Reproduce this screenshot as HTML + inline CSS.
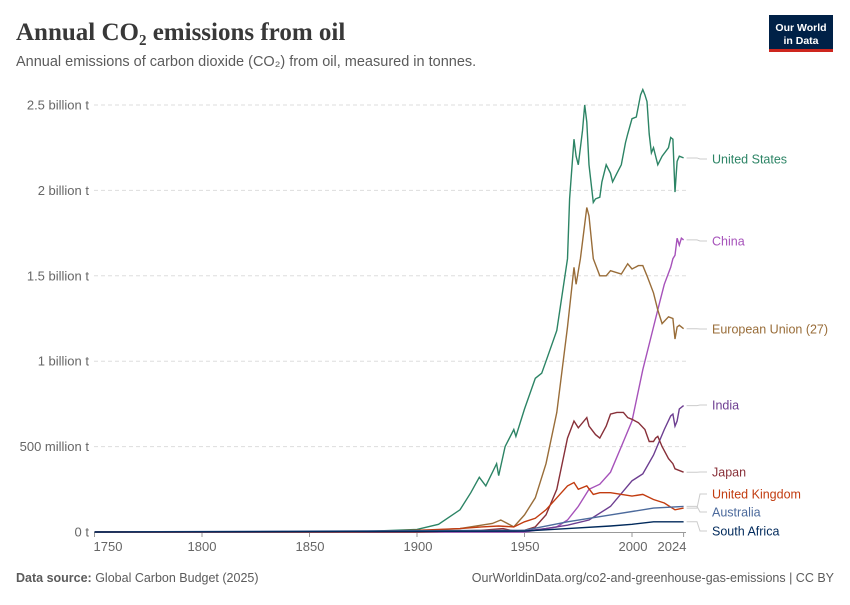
<!DOCTYPE html>
<html><head><meta charset="utf-8"><style>
body{margin:0;background:#fff;font-family:"Liberation Sans",sans-serif;}
</style></head><body>
<svg id="c" width="850" height="600" xmlns="http://www.w3.org/2000/svg" font-family="Liberation Sans, sans-serif">
<text x="16" y="40" font-family="Liberation Serif, serif" font-size="25" fill="#383838" font-weight="bold">Annual CO₂ emissions from oil</text>
<text x="16" y="66" font-size="14.5" fill="#5b5b5b">Annual emissions of carbon dioxide (CO₂) from oil, measured in tonnes.</text>
<rect x="769" y="15" width="64" height="36" fill="#002147"/>
<rect x="769" y="49" width="64" height="3" fill="#ce261e"/>
<text x="801" y="31" font-size="10.5" fill="#fff" text-anchor="middle" font-weight="bold">Our World</text>
<text x="801" y="44" font-size="10.5" fill="#fff" text-anchor="middle" font-weight="bold">in Data</text>
<g id="grid" stroke="#ddd" stroke-dasharray="4,3"></g>
<g id="lab" font-size="13" fill="#666" text-anchor="end"></g>
<g id="series" fill="none" stroke-width="1.4"></g>
<text x="16" y="582" font-size="12.5" fill="#5b5b5b"><tspan font-weight="bold">Data source:</tspan> Global Carbon Budget (2025)</text>
<text x="834" y="582" font-size="12.5" fill="#5b5b5b" text-anchor="end">OurWorldinData.org/co2-and-greenhouse-gas-emissions | CC BY</text>
</svg>
<script>
const NS="http://www.w3.org/2000/svg";
const X=y=>94.5+(y-1750)*2.15, Y=v=>532-v*0.1708;
function el(t,a,p,txt){const e=document.createElementNS(NS,t);for(const k in a)e.setAttribute(k,a[k]);if(txt)e.textContent=txt;document.getElementById(p).appendChild(e);return e;}
const ticks=[[0,"0 t"],[500,"500 million t"],[1000,"1 billion t"],[1500,"1.5 billion t"],[2000,"2 billion t"],[2500,"2.5 billion t"]];
ticks.forEach(([v,l])=>{ if(v>0) el("line",{x1:94,x2:686,y1:Y(v),y2:Y(v)},"grid"); el("text",{x:89,y:Y(v)+4.5},"lab",l);});
el("line",{x1:94,x2:686,y1:532.5,y2:532.5,stroke:"#999","stroke-dasharray":"none"},"grid");
[[1750,108],[1800,202],[1850,310],[1900,418],[1950,525],[2000,633],[2024,672]].forEach(([y,x])=>{el("text",{x:x,y:551,"text-anchor":"middle"},"lab",String(y));el("line",{x1:X(y),x2:X(y),y1:532,y2:537,stroke:"#999","stroke-dasharray":"none"},"grid");});
const S=[
["United States","#2c8465",159,[[1750,0],[1860,0],[1880,5],[1900,15],[1910,45],[1920,130],[1925,230],[1929,320],[1932,270],[1937,400],[1938,330],[1941,500],[1945,600],[1946,560],[1950,720],[1955,900],[1958,930],[1960,1000],[1965,1180],[1970,1600],[1971,1950],[1973,2300],[1974,2200],[1975,2150],[1977,2350],[1978,2500],[1979,2400],[1980,2150],[1982,1930],[1983,1950],[1985,1960],[1986,2050],[1988,2150],[1990,2100],[1991,2050],[1993,2100],[1995,2150],[1997,2280],[1998,2330],[2000,2420],[2002,2430],[2004,2560],[2005,2590],[2006,2560],[2007,2520],[2008,2330],[2009,2220],[2010,2250],[2012,2150],[2014,2200],[2017,2250],[2018,2310],[2019,2300],[2020,1990],[2021,2170],[2022,2200],[2024,2190]]],
["China","#a652ba",241,[[1750,0],[1950,0],[1960,20],[1965,30],[1970,70],[1975,150],[1980,250],[1985,280],[1990,350],[1995,500],[2000,650],[2005,950],[2010,1200],[2013,1350],[2015,1450],[2018,1550],[2019,1600],[2020,1620],[2021,1720],[2022,1680],[2023,1720],[2024,1710]]],
["European Union (27)","#996d39",329,[[1750,0],[1880,2],[1900,5],[1920,20],[1935,50],[1939,70],[1945,30],[1950,100],[1955,200],[1960,400],[1965,700],[1970,1200],[1973,1550],[1974,1450],[1976,1600],[1979,1900],[1980,1850],[1982,1600],[1985,1500],[1988,1500],[1990,1530],[1995,1510],[1998,1570],[2000,1540],[2003,1560],[2005,1560],[2007,1500],[2010,1400],[2012,1300],[2014,1220],[2017,1260],[2019,1250],[2020,1130],[2021,1200],[2022,1210],[2024,1190]]],
["India","#6d3e91",405,[[1750,0],[1950,5],[1960,20],[1970,40],[1980,70],[1990,150],[2000,300],[2005,340],[2010,450],[2015,600],[2018,680],[2019,690],[2020,620],[2021,650],[2022,720],[2024,740]]],
["Japan","#883039",472,[[1750,0],[1900,0],[1930,10],[1940,20],[1945,5],[1950,10],[1955,30],[1960,100],[1965,250],[1970,550],[1973,650],[1975,610],[1979,670],[1980,620],[1983,570],[1985,550],[1988,620],[1990,690],[1993,700],[1996,700],[1998,670],[2000,660],[2003,640],[2006,600],[2008,530],[2010,530],[2011,550],[2012,560],[2014,500],[2017,430],[2019,400],[2020,370],[2024,350]]],
["United Kingdom","#c23c10",494,[[1750,0],[1870,2],[1900,10],[1920,20],[1930,30],[1938,35],[1945,30],[1950,60],[1955,80],[1960,130],[1965,200],[1970,270],[1973,290],[1975,250],[1979,270],[1982,220],[1985,230],[1990,230],[2000,210],[2005,220],[2010,190],[2015,170],[2020,130],[2024,140]]],
["Australia","#4c6a9c",512,[[1750,0],[1950,10],[1970,60],[1990,100],[2010,140],[2024,150]]],
["South Africa","#00295b",531,[[1750,0],[1950,5],[1970,20],[1990,35],[2000,45],[2010,60],[2024,60]]]
];
S.forEach(([n,c,ly,d])=>{
 el("polyline",{points:d.map(p=>X(p[0]).toFixed(1)+","+Y(p[1]).toFixed(1)).join(" "),stroke:c},"series");
 const last=d[d.length-1],ey=Y(last[1]);
 el("polyline",{points:`${X(2024)+3},${ey} 697,${ey} 700,${ly} 707,${ly}`,stroke:"#ccc","stroke-width":1},"series");
 el("text",{x:712,y:ly+4.5,fill:c,stroke:"none","font-size":12.5},"series",n);
});
</script>
</body></html>
